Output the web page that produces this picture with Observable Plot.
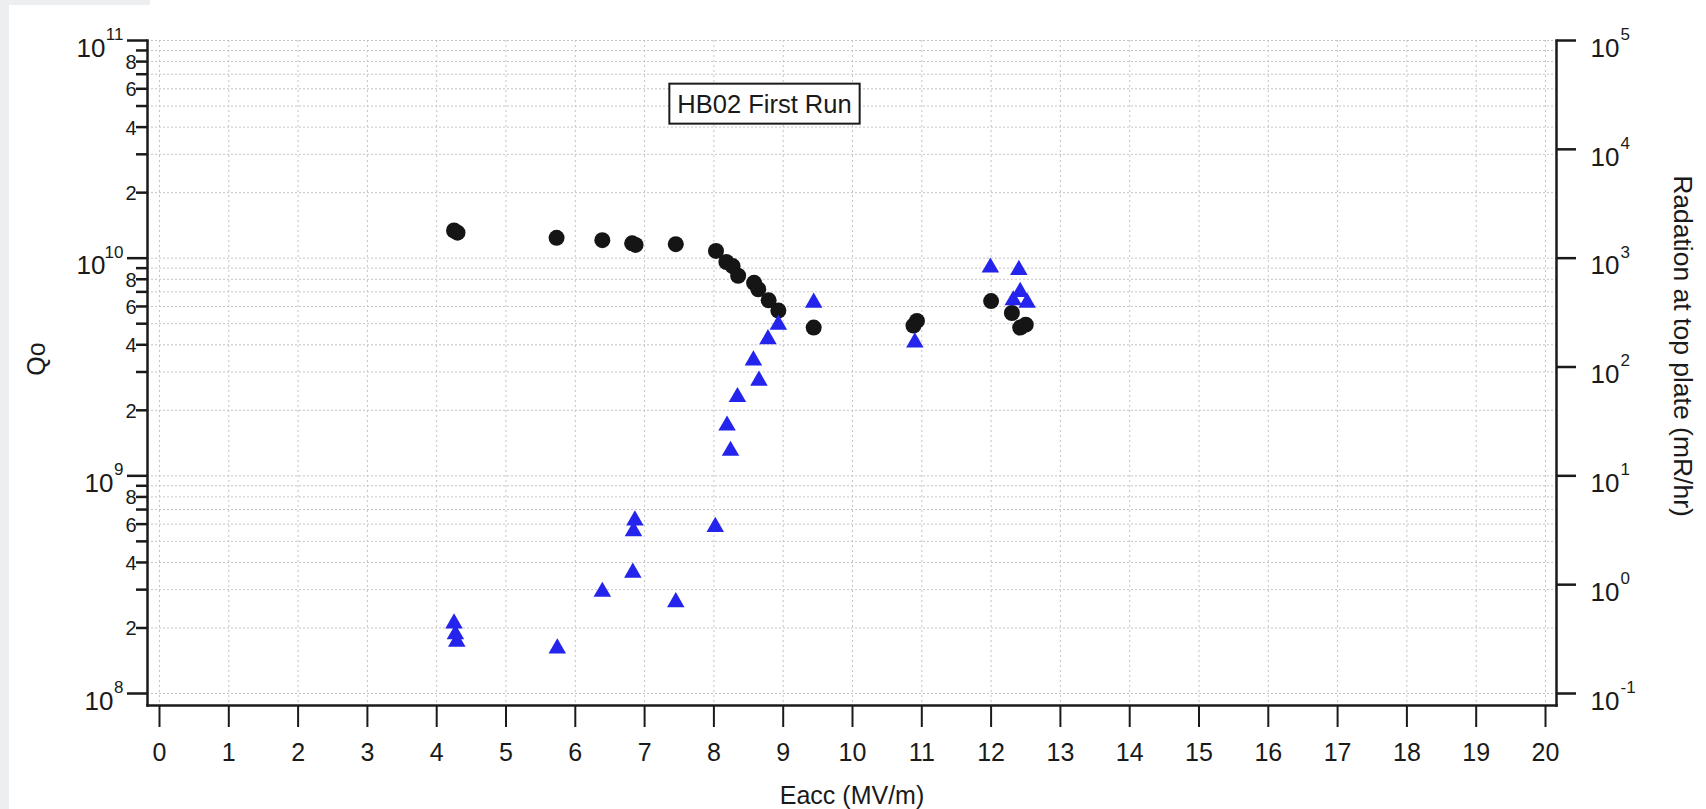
<!DOCTYPE html>
<html><head><meta charset="utf-8">
<script src="https://cdn.jsdelivr.net/npm/d3@7"></script>
<script src="https://cdn.jsdelivr.net/npm/@observablehq/plot@0.6"></script>
<style>
html,body{margin:0;padding:0;overflow:hidden;background:#fff;width:1706px;height:809px;}
#strip{position:absolute;left:0;top:0;width:9px;height:809px;background:#eceef0;}
#topband{position:absolute;left:0;top:0;width:150px;height:5px;background:#eceef0;}
#chart{position:absolute;left:0;top:0;}
</style></head><body>
<div id="strip"></div><div id="topband"></div>
<div id="chart"></div>
<script>
// Qo (left axis) series
const eaccQ = [4.25, 4.30, 5.73, 6.39, 6.82, 6.87, 7.45, 8.03, 8.18, 8.27, 8.35, 8.58, 8.64, 8.79, 8.93, 9.44, 10.88, 10.93, 12.00, 12.30, 12.42, 12.50];
const qo    = [1.34e10, 1.31e10, 1.24e10, 1.21e10, 1.17e10, 1.15e10, 1.16e10, 1.08e10, 9.6e9, 9.2e9, 8.3e9, 7.7e9, 7.2e9, 6.4e9, 5.75e9, 4.8e9, 4.9e9, 5.15e9, 6.35e9, 5.6e9, 4.8e9, 4.95e9];
// Radiation (right axis) series, mR/hr
const eaccR     = [4.25, 4.27, 4.29, 5.74, 6.39, 6.83, 6.84, 6.86, 7.45, 8.02, 8.19, 8.24, 8.34, 8.57, 8.65, 8.78, 8.93, 9.44, 10.90, 11.99, 12.32, 12.40, 12.42, 12.52];
const radiation = [0.44, 0.35, 0.30, 0.26, 0.86, 1.29, 3.1, 3.9, 0.69, 3.4, 29, 17, 53, 115, 75, 180, 245, 390, 168, 820, 410, 780, 490, 390];

// ticks / labels
const xTickValues = [0,1,2,3,4,5,6,7,8,9,10,11,12,13,14,15,16,17,18,19,20];
const leftExponents = [8, 9, 10, 11];
const minorMultipliers = [2,3,4,5,6,7,8,9];
const labeledMinors = [2,4,6,8];
const rightExponents = [-1, 0, 1, 2, 3, 4, 5];
const titleText = "HB02 First Run";
const xLabel = "Eacc (MV/m)";
const leftLabel = "Qo";
const rightLabel = "Radation at top plate (mR/hr)";

// right axis decades (1e-1 .. 1e5) span the same height as the left (1e8 .. 1e11)
const radToQ = r => Math.pow(10, 8 + (Math.log10(r) + 1) / 2);

const qoData = eaccQ.map((e, i) => ({e, q: qo[i]}));
const radData = eaccR.map((e, i) => ({e, q: radToQ(radiation[i])}));
const leftMajor = leftExponents.map(k => Math.pow(10, k));
const lowerDecades = leftExponents.slice(0, -1);
const leftMinor = lowerDecades.flatMap(k => minorMultipliers.map(m => m * Math.pow(10, k)));
const leftMinorLabeled = lowerDecades.flatMap(k => labeledMinors.map(m => ({v: m * Math.pow(10, k), m})));
const rightMajor = rightExponents.map(k => radToQ(Math.pow(10, k)));
const expOf = d => String(Math.round(Math.log10(d)));

const FONT = '"Liberation Sans", Arial, Helvetica, sans-serif';
const INK = "#1a1a1a";
const GRID = "#c4c4c4";

const plot = Plot.plot({
  width: 1706, height: 809,
  marginLeft: 147, marginRight: 150, marginTop: 40, marginBottom: 104,
  insetLeft: 12, insetRight: 11, insetTop: 0, insetBottom: 12,
  style: {fontFamily: FONT, background: "transparent", color: INK, overflow: "visible"},
  x: {domain: [0, 20]},
  y: {type: "log", domain: [1e8, 1e11]},
  marks: [
    Plot.gridX(xTickValues, {stroke: GRID, strokeOpacity: 1, strokeDasharray: "2,3"}),
    Plot.gridY([...leftMinor, ...leftMajor], {stroke: GRID, strokeOpacity: 1, strokeDasharray: "2,2"}),
    Plot.frame({anchor: "left", stroke: INK, strokeWidth: 2.5}),
    Plot.frame({anchor: "bottom", stroke: INK, strokeWidth: 2.5}),
    Plot.frame({anchor: "right", stroke: INK, strokeWidth: 2.5}),
    // left axis
    Plot.axisY(leftMajor, {anchor: "left", tickSize: 20, tickFormat: () => "", strokeWidth: 2.5, label: null}),
    Plot.axisY(leftMinor, {anchor: "left", tickSize: 11, tickFormat: () => "", strokeWidth: 2.5, label: null}),
    Plot.text(leftMinorLabeled, {y: "v", text: d => String(d.m), frameAnchor: "left", textAnchor: "end", lineAnchor: "middle", dx: -11, dy: 1, fontSize: 20}),
    Plot.text(leftMajor.filter(d => expOf(d).length === 2), {y: d => d, text: () => "10", frameAnchor: "left", textAnchor: "end", lineAnchor: "middle", dx: -42, dy: 8, fontSize: 26}),
    Plot.text(leftMajor.filter(d => expOf(d).length === 1), {y: d => d, text: () => "10", frameAnchor: "left", textAnchor: "end", lineAnchor: "middle", dx: -34, dy: 8, fontSize: 26}),
    Plot.text(leftMajor, {y: d => d, text: d => expOf(d), frameAnchor: "left", textAnchor: "end", lineAnchor: "middle", dx: -24, dy: -6, fontSize: 17}),
    // right axis
    Plot.axisY(rightMajor, {anchor: "right", tickSize: 19, tickFormat: () => "", strokeWidth: 2.5, label: null}),
    Plot.text(rightExponents, {y: k => radToQ(Math.pow(10, k)), text: () => "10", frameAnchor: "right", textAnchor: "start", lineAnchor: "middle", dx: 34, dy: 8, fontSize: 26}),
    Plot.text(rightExponents, {y: k => radToQ(Math.pow(10, k)), text: k => String(k), frameAnchor: "right", textAnchor: "start", lineAnchor: "middle", dx: 64, dy: -6, fontSize: 17}),
    // x axis
    Plot.axisX(xTickValues, {anchor: "bottom", tickSize: 22, tickPadding: 16, fontSize: 25, strokeWidth: 2, label: null}),
    // axis titles
    Plot.text([xLabel], {frameAnchor: "bottom", text: d => d, textAnchor: "middle", lineAnchor: "middle", dy: 90, fontSize: 25}),
    Plot.text([leftLabel], {frameAnchor: "left", text: d => d, textAnchor: "middle", lineAnchor: "middle", rotate: -90, dx: -111, dy: -14, fontSize: 25}),
    Plot.text([rightLabel], {frameAnchor: "right", text: d => d, textAnchor: "middle", lineAnchor: "middle", rotate: 90, dx: 126, dy: -27, fontSize: 26.5}),
    // data
    Plot.dot(qoData, {x: "e", y: "q", r: 8, fill: "#151515"}),
    Plot.dot(radData, {x: "e", y: "q", symbol: "triangle", r: 6.5, fill: "#2424ec"}),
    // title annotation
    Plot.text([titleText], {frameAnchor: "top-left", text: d => d, dx: 617, dy: 64, fontSize: 25.5, textAnchor: "middle", lineAnchor: "middle", fill: INK})
  ]
});
document.getElementById("chart").appendChild(plot);

// box around the annotation, sized from its own text
const titleEl = Array.from(plot.querySelectorAll("text")).find(t => t.textContent === titleText);
if (titleEl) {
  const bb = titleEl.getBBox();
  const rect = document.createElementNS("http://www.w3.org/2000/svg", "rect");
  rect.setAttribute("x", bb.x - 8);
  rect.setAttribute("y", bb.y - 6);
  rect.setAttribute("width", bb.width + 16);
  rect.setAttribute("height", bb.height + 12);
  rect.setAttribute("fill", "#fff");
  rect.setAttribute("stroke", INK);
  rect.setAttribute("stroke-width", 2);
  const tf = titleEl.getAttribute("transform");
  if (tf) rect.setAttribute("transform", tf);
  titleEl.parentNode.insertBefore(rect, titleEl);
}
</script>
</body></html>
